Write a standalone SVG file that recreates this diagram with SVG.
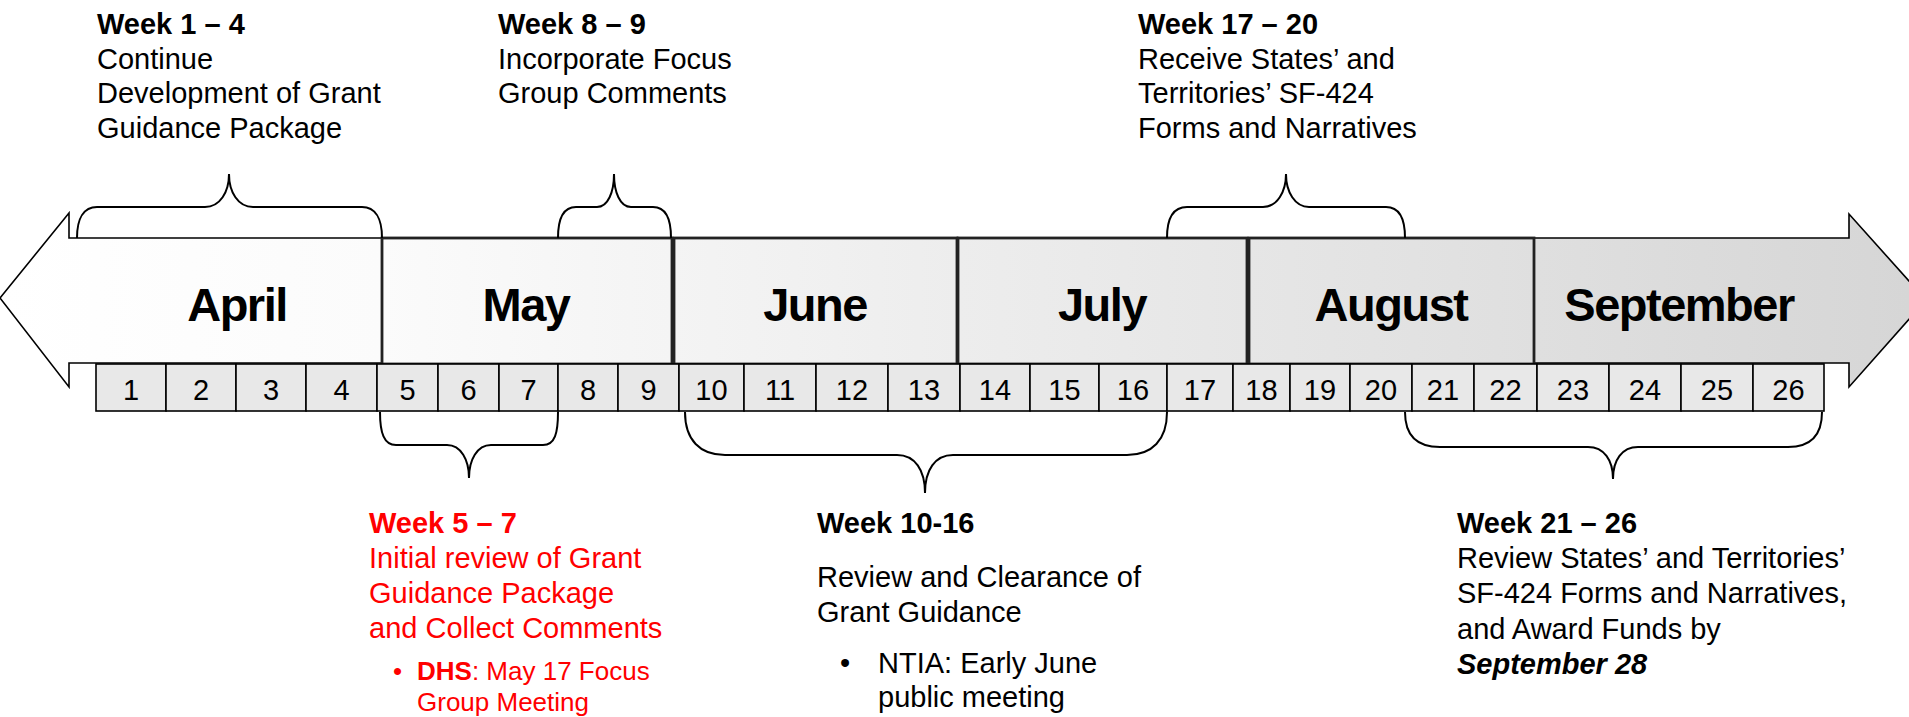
<svg xmlns="http://www.w3.org/2000/svg" width="1909" height="717" viewBox="0 0 1909 717">
<defs>
<linearGradient id="g" gradientUnits="userSpaceOnUse" x1="0" y1="0" x2="1909" y2="0">
<stop offset="0" stop-color="#ffffff"/>
<stop offset="0.2" stop-color="#fbfbfb"/>
<stop offset="1" stop-color="#d6d6d6"/>
</linearGradient>
</defs>
<style>
.t{font-family:"Liberation Sans",Arial,sans-serif;font-size:29px;fill:#000}
.b{font-weight:bold}
.red{fill:#ff0000}
.m{font-family:"Liberation Sans",Arial,sans-serif;font-size:47px;font-weight:bold;letter-spacing:-1.5px;text-anchor:middle;fill:#000}
.n{font-family:"Liberation Sans",Arial,sans-serif;font-size:29px;text-anchor:middle;fill:#000}
.mb{fill:url(#g);stroke:#222;stroke-width:2.8}
.wk{fill:#e8e8e8;stroke:#000;stroke-width:1.6}
.br{fill:none;stroke:#000;stroke-width:2}
.sm{font-size:26px}
</style>
<g id="arrow">
<polygon points="0,298 69,213 69,238 1849,238 1849,214 1926,300 1849,387 1849,363 69,363 69,387" fill="url(#g)" stroke="#000" stroke-width="1.6"/>
</g>
<g id="months">
<g id="april"><text class="m" x="237" y="321">April</text></g>
<g id="may"><rect class="mb" x="382" y="238" width="290" height="126"/><text class="m" x="526" y="321">May</text></g>
<g id="june"><rect class="mb" x="674" y="238" width="283" height="126"/><text class="m" x="815" y="321">June</text></g>
<g id="july"><rect class="mb" x="958" y="238" width="289" height="126"/><text class="m" x="1102" y="321">July</text></g>
<g id="august"><rect class="mb" x="1249" y="238" width="285" height="126"/><text class="m" x="1391" y="321">August</text></g>
<g id="september"><text class="m" x="1679" y="321">September</text></g>
</g>
<g id="weeks">
<rect class="wk" x="96" y="364" width="70" height="47"/><text class="n" x="131" y="400">1</text>
<rect class="wk" x="166" y="364" width="70" height="47"/><text class="n" x="201" y="400">2</text>
<rect class="wk" x="236" y="364" width="70" height="47"/><text class="n" x="271" y="400">3</text>
<rect class="wk" x="306" y="364" width="71" height="47"/><text class="n" x="341.5" y="400">4</text>
<rect class="wk" x="377" y="364" width="61" height="47"/><text class="n" x="407.5" y="400">5</text>
<rect class="wk" x="438" y="364" width="61" height="47"/><text class="n" x="468.5" y="400">6</text>
<rect class="wk" x="499" y="364" width="59" height="47"/><text class="n" x="528.5" y="400">7</text>
<rect class="wk" x="558" y="364" width="60" height="47"/><text class="n" x="588" y="400">8</text>
<rect class="wk" x="618" y="364" width="61" height="47"/><text class="n" x="648.5" y="400">9</text>
<rect class="wk" x="679" y="364" width="65" height="47"/><text class="n" x="711.5" y="400">10</text>
<rect class="wk" x="744" y="364" width="72" height="47"/><text class="n" x="780" y="400">11</text>
<rect class="wk" x="816" y="364" width="72" height="47"/><text class="n" x="852" y="400">12</text>
<rect class="wk" x="888" y="364" width="72" height="47"/><text class="n" x="924" y="400">13</text>
<rect class="wk" x="960" y="364" width="70" height="47"/><text class="n" x="995" y="400">14</text>
<rect class="wk" x="1030" y="364" width="69" height="47"/><text class="n" x="1064.5" y="400">15</text>
<rect class="wk" x="1099" y="364" width="68" height="47"/><text class="n" x="1133" y="400">16</text>
<rect class="wk" x="1167" y="364" width="66" height="47"/><text class="n" x="1200" y="400">17</text>
<rect class="wk" x="1233" y="364" width="57" height="47"/><text class="n" x="1261.5" y="400">18</text>
<rect class="wk" x="1290" y="364" width="60" height="47"/><text class="n" x="1320" y="400">19</text>
<rect class="wk" x="1350" y="364" width="62" height="47"/><text class="n" x="1381" y="400">20</text>
<rect class="wk" x="1412" y="364" width="62" height="47"/><text class="n" x="1443" y="400">21</text>
<rect class="wk" x="1474" y="364" width="63" height="47"/><text class="n" x="1505.5" y="400">22</text>
<rect class="wk" x="1537" y="364" width="72" height="47"/><text class="n" x="1573" y="400">23</text>
<rect class="wk" x="1609" y="364" width="72" height="47"/><text class="n" x="1645" y="400">24</text>
<rect class="wk" x="1681" y="364" width="72" height="47"/><text class="n" x="1717" y="400">25</text>
<rect class="wk" x="1753" y="364" width="71" height="47"/><text class="n" x="1788.5" y="400">26</text>
</g>
<g id="connectors">
<path class="br" d="M77,238 C77,218 84,207 97,207 L205,207 C220,207 229,192 229,174 C229,192 238,207 253,207 L362,207 C375,207 382,218 382,238"/>
<path class="br" d="M558,238 C558,218 563,207 576,207 L597,207 C608,207 614,192 614,174 C614,192 620,207 631,207 L653,207 C666,207 671,218 671,238"/>
<path class="br" d="M1167,238 C1167,218 1173,207 1187,207 L1263,207 C1277,207 1286,192 1286,174 C1286,192 1295,207 1309,207 L1386,207 C1399,207 1405,218 1405,238"/>
<path class="br" d="M380,412 C380,433 384,445 396,445 L447,445 C461,445 469,460 469,478 C469,460 477,445 491,445 L543,445 C555,445 558,433 558,412"/>
<path class="br" d="M685,412 C685,440 700,455 725,455 L897,455 C915,455 925,470 925,493 C925,470 935,455 953,455 L1127,455 C1152,455 1167,440 1167,412"/>
<path class="br" d="M1405,412 C1405,436 1417,447 1440,447 L1588,447 C1604,447 1613,460 1613,479 C1613,460 1622,447 1638,447 L1788,447 C1810,447 1822,436 1822,412"/>
</g>
<g id="note-week1-4">
<text class="t b" x="97" y="34">Week 1 – 4</text>
<text class="t" x="97" y="68.5">Continue</text>
<text class="t" x="97" y="103">Development of Grant</text>
<text class="t" x="97" y="137.5">Guidance Package</text>
</g>
<g id="note-week8-9">
<text class="t b" x="498" y="34">Week 8 – 9</text>
<text class="t" x="498" y="68.5">Incorporate Focus</text>
<text class="t" x="498" y="103">Group Comments</text>
</g>
<g id="note-week17-20">
<text class="t b" x="1138" y="34">Week 17 – 20</text>
<text class="t" x="1138" y="68.5">Receive States’ and</text>
<text class="t" x="1138" y="103">Territories’ SF-424</text>
<text class="t" x="1138" y="137.5">Forms and Narratives</text>
</g>
<g id="note-week5-7">
<text class="t b red" x="369" y="533">Week 5 – 7</text>
<text class="t red" x="369" y="568">Initial review of Grant</text>
<text class="t red" x="369" y="603">Guidance Package</text>
<text class="t red" x="369" y="638">and Collect Comments</text>
<text class="t red sm" x="393" y="680">•</text>
<text class="t red sm" x="417" y="680"><tspan font-weight="bold">DHS</tspan>: May 17 Focus</text>
<text class="t red sm" x="417" y="711">Group Meeting</text>
</g>
<g id="note-week10-16">
<text class="t b" x="817" y="533">Week 10-16</text>
<text class="t" x="817" y="587">Review and Clearance of</text>
<text class="t" x="817" y="622">Grant Guidance</text>
<text class="t" x="840" y="673">•</text>
<text class="t" x="878" y="673">NTIA: Early June</text>
<text class="t" x="878" y="707">public meeting</text>
</g>
<g id="note-week21-26">
<text class="t b" x="1457" y="533">Week 21 – 26</text>
<text class="t" x="1457" y="568">Review States’ and Territories’</text>
<text class="t" x="1457" y="603">SF-424 Forms and Narratives,</text>
<text class="t" x="1457" y="639">and Award Funds by</text>
<text class="t b" x="1457" y="674" font-style="italic">September 28</text>
</g>
</svg>
